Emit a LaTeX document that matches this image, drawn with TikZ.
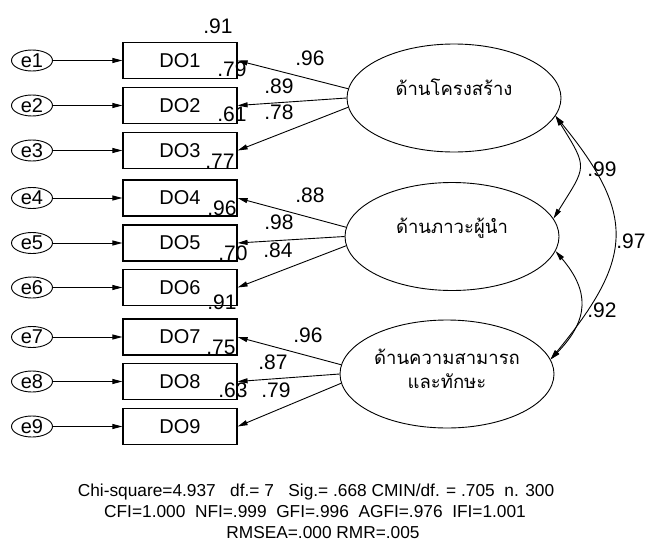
\documentclass[tikz,border=0pt]{standalone}
\usepackage{fontspec}
\setmainfont{Liberation Sans}
\newfontfamily\thaifont[Script=Thai]{Loma}
\usetikzlibrary{shapes.geometric,arrows.meta}
\begin{document}
\begin{tikzpicture}[x=1pt,y=-1pt,
  lbl/.style={font=\fontsize{21}{23}\selectfont, inner sep=0pt},
  errnode/.style={draw, ellipse, line width=0.9pt, minimum width=41pt, minimum height=21pt, inner sep=0pt, font=\fontsize{20}{22}\selectfont},
  obsbox/.style={draw, rectangle, line width=1.2pt, minimum width=114pt, minimum height=36pt, inner sep=0pt, font=\fontsize{20}{22}\selectfont},
  latent/.style={draw, ellipse, line width=0.9pt, minimum width=214pt, minimum height=108pt, inner sep=0pt},
  thai/.style={font=\thaifont\fontsize{18.5}{22}\selectfont, inner sep=0pt},
  arr/.style={line width=0.9pt, -{Triangle[length=10pt,width=5pt]}},
  corr/.style={line width=0.9pt, {Triangle[length=10pt,width=5pt]}-{Triangle[length=10pt,width=5pt]}},
  fit/.style={font=\fontsize{17.3}{20}\selectfont, inner sep=0pt, anchor=base, text depth=0pt}
]
\useasboundingbox (0,0) rectangle (646,541);

% observed indicators and their error terms
\foreach \i/\y in {1/60.5,2/105.5,3/150.5,4/198,5/243,6/287.5,7/337,8/381.5,9/426.5}{
  \node[obsbox] (DO\i) at (180,\y) {DO\i};
  \node[errnode] (e\i) at (32,\y) {e\i};
  \draw[arr] (e\i) -- (DO\i);
}

% latent factors
\node[latent] (F1) at (454,98) {};
\node[latent] (F2) at (452,236.5) {};
\node[latent] (F3) at (447,374) {};
\node[thai] (F1t) at (454,87) {ด้านโครงสร้าง};
\node[thai] (F2t) at (452,228) {ด้านภาวะผู้นำ};
\node[thai] (F3t) at (447,357) {ด้านความสามารถ};
\node[thai] (F3u) at (447,381) {และทักษะ};

% factor loadings
\draw[arr] (F1.175) -- (DO1.east);
\draw[arr] (F1.180) -- (DO2.east);
\draw[arr] (F1.185) -- (DO3.east);
\draw[arr] (F2.175) -- (DO4.east);
\draw[arr] (F2.180) -- (DO5.east);
\draw[arr] (F2.185) -- (DO6.east);
\draw[arr] (F3.175) -- (DO7.east);
\draw[arr] (F3.180) -- (DO8.east);
\draw[arr] (F3.185) -- (DO9.east);

% loading values
\node[lbl] (l1) at (310,58) {.96};
\node[lbl] (l2) at (279,86) {.89};
\node[lbl] (l3) at (279,112) {.78};
\node[lbl] (l4) at (310,195) {.88};
\node[lbl] (l5) at (279,222) {.98};
\node[lbl] (l6) at (278,250) {.84};
\node[lbl] (l7) at (308,335) {.96};
\node[lbl] (l8) at (273,362) {.87};
\node[lbl] (l9) at (276,390) {.79};

% squared multiple correlations
\node[lbl] (r1) at (218,26) {.91};
\node[lbl] (r2) at (232,69) {.79};
\node[lbl] (r3) at (232,114) {.61};
\node[lbl] (r4) at (220,161) {.77};
\node[lbl] (r5) at (222,208) {.96};
\node[lbl] (r6) at (233,253) {.70};
\node[lbl] (r7) at (222,302) {.91};
\node[lbl] (r8) at (221,347) {.75};
\node[lbl] (r9) at (233,390) {.63};

% factor correlations
\draw[corr] (F1.-10) .. controls +(33,53) and +(33,-53) .. (F2.10);
\draw[corr] (F2.-8) .. controls +(34,40) and +(39,-40) .. (F3.8);
\draw[corr] (F1.-10) .. controls +(82,100) and +(82,-100) .. (F3.8);
\node[lbl] (c12) at (602,169) {.99};
\node[lbl] (c23) at (602,310) {.92};
\node[lbl] (c13) at (631,241) {.97};

% fit indices
\node[fit] (fit1) at (316,496) {Chi-square=4.937\ \ \ df.= 7\ \ \ Sig.= .668 CMIN/df. = .705\ \ n. 300};
\node[fit] (fit2) at (315,517) {CFI=1.000\ \ NFI=.999\ \ GFI=.996\ \ AGFI=.976\ \ IFI=1.001};
\node[fit] (fit3) at (323,538) {RMSEA=.000 RMR=.005};
\end{tikzpicture}
\end{document}
